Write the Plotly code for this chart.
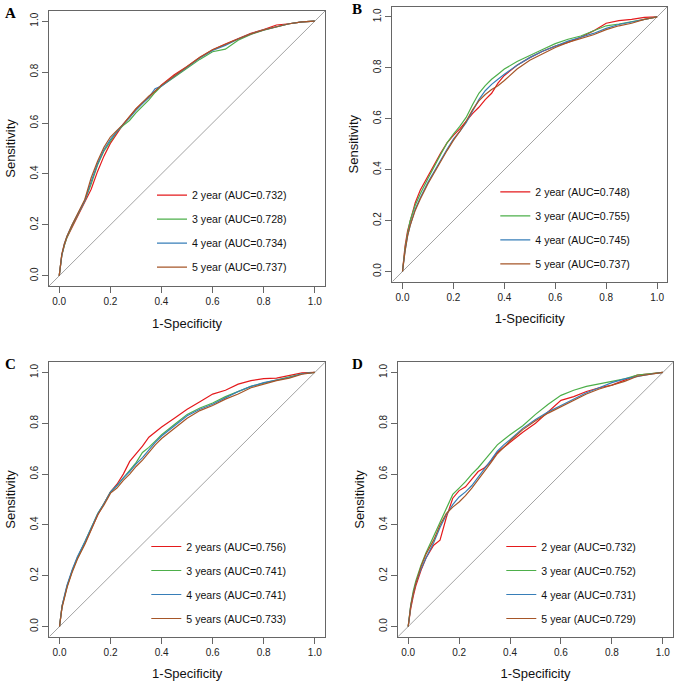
import plotly.graph_objects as go

# false positive rate grid (same for every panel)
fpr = [0, 0.005, 0.01, 0.02, 0.03, 0.05, 0.07, 0.1, 0.125, 0.15, 0.175, 0.2,
       0.225, 0.25, 0.275, 0.3, 0.325, 0.35, 0.375, 0.4, 0.45, 0.5, 0.55, 0.6,
       0.65, 0.7, 0.75, 0.8, 0.85, 0.9, 0.95, 1.0]

# panel A
a_red = [0, 0.05, 0.08, 0.12, 0.15, 0.19, 0.23, 0.29, 0.34, 0.41, 0.47, 0.52, 0.56, 0.595, 0.625, 0.655,
         0.68, 0.70, 0.725, 0.75, 0.79, 0.822, 0.858, 0.888, 0.91, 0.932, 0.952, 0.967, 0.985, 0.99, 0.997, 1]
a_green = [0, 0.05, 0.08, 0.12, 0.15, 0.195, 0.235, 0.295, 0.36, 0.435, 0.49, 0.53, 0.565, 0.59, 0.61, 0.64,
           0.665, 0.69, 0.72, 0.745, 0.78, 0.815, 0.85, 0.88, 0.89, 0.925, 0.948, 0.965, 0.978, 0.99, 0.997, 1]
a_blue = [0, 0.05, 0.08, 0.125, 0.155, 0.2, 0.24, 0.295, 0.37, 0.44, 0.495, 0.535, 0.565, 0.595, 0.62, 0.65,
          0.675, 0.70, 0.735, 0.745, 0.783, 0.82, 0.855, 0.885, 0.905, 0.93, 0.95, 0.966, 0.978, 0.99, 0.997, 1]
a_brown = [0, 0.05, 0.085, 0.125, 0.155, 0.2, 0.24, 0.3, 0.385, 0.45, 0.505, 0.545, 0.57, 0.595, 0.625, 0.655,
           0.68, 0.705, 0.725, 0.748, 0.785, 0.82, 0.857, 0.888, 0.91, 0.93, 0.95, 0.966, 0.978, 0.99, 0.997, 1]

# panel B
b_red = [0, 0.07, 0.10, 0.16, 0.20, 0.27, 0.32, 0.375, 0.42, 0.465, 0.505, 0.535, 0.56, 0.59, 0.62, 0.645,
         0.675, 0.70, 0.74, 0.77, 0.81, 0.84, 0.865, 0.885, 0.9, 0.92, 0.945, 0.975, 0.985, 0.99, 0.998, 1]
b_green = [0, 0.05, 0.09, 0.15, 0.20, 0.26, 0.305, 0.365, 0.415, 0.46, 0.505, 0.54, 0.57, 0.605, 0.655, 0.70,
           0.73, 0.755, 0.775, 0.795, 0.825, 0.85, 0.872, 0.895, 0.912, 0.925, 0.945, 0.965, 0.972, 0.98, 0.99, 1]
b_blue = [0, 0.05, 0.08, 0.14, 0.18, 0.245, 0.29, 0.35, 0.395, 0.44, 0.48, 0.52, 0.55, 0.585, 0.63, 0.675,
          0.71, 0.735, 0.755, 0.775, 0.81, 0.84, 0.865, 0.885, 0.905, 0.92, 0.935, 0.955, 0.97, 0.98, 0.99, 1]
b_brown = [0, 0.05, 0.08, 0.14, 0.18, 0.24, 0.285, 0.345, 0.39, 0.435, 0.475, 0.515, 0.55, 0.59, 0.635, 0.67,
           0.695, 0.715, 0.73, 0.75, 0.795, 0.83, 0.855, 0.88, 0.9, 0.915, 0.93, 0.95, 0.965, 0.975, 0.99, 1]

# panel C
c_red = [0, 0.05, 0.08, 0.12, 0.16, 0.22, 0.27, 0.33, 0.385, 0.44, 0.485, 0.53, 0.56, 0.60, 0.65, 0.68,
         0.71, 0.745, 0.765, 0.785, 0.82, 0.855, 0.885, 0.915, 0.93, 0.954, 0.968, 0.976, 0.978, 0.987, 0.998, 1]
c_green = [0, 0.05, 0.08, 0.12, 0.16, 0.22, 0.27, 0.335, 0.39, 0.445, 0.485, 0.53, 0.555, 0.585, 0.615, 0.645,
           0.685, 0.705, 0.73, 0.755, 0.795, 0.835, 0.86, 0.88, 0.905, 0.925, 0.945, 0.958, 0.97, 0.98, 0.995, 1]
c_blue = [0, 0.05, 0.08, 0.125, 0.165, 0.225, 0.275, 0.335, 0.39, 0.445, 0.485, 0.53, 0.555, 0.585, 0.61, 0.64,
          0.665, 0.695, 0.725, 0.75, 0.79, 0.83, 0.855, 0.875, 0.9, 0.925, 0.945, 0.96, 0.97, 0.98, 0.995, 1]
c_brown = [0, 0.045, 0.075, 0.115, 0.155, 0.215, 0.265, 0.325, 0.385, 0.44, 0.48, 0.525, 0.545, 0.575, 0.60, 0.63,
           0.655, 0.685, 0.715, 0.74, 0.78, 0.82, 0.85, 0.87, 0.895, 0.915, 0.94, 0.955, 0.968, 0.978, 0.993, 1]

# panel D
d_red = [0, 0.04, 0.07, 0.12, 0.16, 0.22, 0.27, 0.32, 0.34, 0.43, 0.505, 0.535, 0.55, 0.58, 0.61, 0.625,
         0.65, 0.685, 0.705, 0.725, 0.765, 0.80, 0.845, 0.89, 0.905, 0.925, 0.94, 0.95, 0.97, 0.99, 0.995, 1]
d_green = [0, 0.05, 0.085, 0.14, 0.18, 0.24, 0.29, 0.355, 0.41, 0.46, 0.52, 0.545, 0.57, 0.60, 0.625, 0.655,
           0.685, 0.715, 0.735, 0.755, 0.79, 0.835, 0.875, 0.91, 0.93, 0.945, 0.955, 0.965, 0.975, 0.99, 0.995, 1]
d_blue = [0, 0.045, 0.08, 0.13, 0.17, 0.225, 0.27, 0.33, 0.39, 0.44, 0.48, 0.51, 0.53, 0.555, 0.59, 0.625,
          0.655, 0.69, 0.715, 0.735, 0.78, 0.815, 0.845, 0.87, 0.895, 0.92, 0.94, 0.96, 0.975, 0.985, 0.993, 1]
d_brown = [0, 0.045, 0.08, 0.13, 0.17, 0.235, 0.285, 0.34, 0.40, 0.445, 0.47, 0.49, 0.515, 0.545, 0.58, 0.615,
           0.645, 0.68, 0.705, 0.73, 0.775, 0.81, 0.84, 0.865, 0.89, 0.915, 0.935, 0.95, 0.965, 0.985, 0.993, 1]

names_a = ["2 year (AUC=0.732)", "3 year (AUC=0.728)", "4 year (AUC=0.734)", "5 year (AUC=0.737)"]
names_b = ["2 year (AUC=0.748)", "3 year (AUC=0.755)", "4 year (AUC=0.745)", "5 year (AUC=0.737)"]
names_c = ["2 years (AUC=0.756)", "3 years (AUC=0.741)", "4 years (AUC=0.741)", "5 years (AUC=0.733)"]
names_d = ["2 year (AUC=0.732)", "3 year (AUC=0.752)", "4 year (AUC=0.731)", "5 year (AUC=0.729)"]

tick_vals = [0, 0.2, 0.4, 0.6, 0.8, 1.0]
tick_text = ["0.0", "0.2", "0.4", "0.6", "0.8", "1.0"]
axis_range = [-0.04, 1.04]

colors = ["#E41A1C", "#4DAF4A", "#377EB8", "#A65628"]
FONT = "Liberation Sans, Arial, sans-serif"
W, H = 676, 685

panels = [
    ("A", [a_red, a_green, a_blue, a_brown], names_a, (49, 325, 11, 286), (152, 180.7)),
    ("B", [b_red, b_green, b_blue, b_brown], names_b, (392.3, 667.3, 6.7, 281.7), (495.3, 177.3)),
    ("C", [c_red, c_green, c_blue, c_brown], names_c, (49.3, 325, 362.3, 636.7), (146.3, 532)),
    ("D", [d_red, d_green, d_blue, d_brown], names_d, (398, 673, 362.3, 636.7), (501.3, 532)),
]

fig = go.Figure()
layout = {}
annotations = []

for i, (label, curves, names, box, leg) in enumerate(panels):
    n = "" if i == 0 else str(i + 1)
    xa, ya = "x" + n, "y" + n
    legend_id = "legend" + n

    # chance line across the whole plotting region
    fig.add_trace(go.Scatter(x=axis_range, y=axis_range, mode="lines", xaxis=xa, yaxis=ya,
                             line=dict(color="#8c8c8c", width=0.8), showlegend=False,
                             hoverinfo="skip"))
    for k, (sens, name) in enumerate(zip(curves, names)):
        fig.add_trace(go.Scatter(x=fpr, y=sens, mode="lines", name=name, xaxis=xa, yaxis=ya,
                                 line=dict(color=colors[k], width=1.2),
                                 legend=legend_id, legendgroup=label + str(k)))

    left, right, top, bottom = box
    common = dict(range=axis_range, tickvals=tick_vals, ticktext=tick_text,
                  showline=True, mirror=True, linecolor="#666666", linewidth=1,
                  ticks="outside", ticklen=6, tickcolor="#666666", showgrid=False,
                  zeroline=False, tickfont=dict(family=FONT, size=10, color="#222222"))
    layout["xaxis" + n] = dict(common, domain=[left / W, right / W], anchor=ya,
                               title=dict(text="1-Specificity", standoff=12,
                                          font=dict(family=FONT, size=13, color="#111111")))
    layout["yaxis" + n] = dict(common, domain=[1 - bottom / H, 1 - top / H], anchor=xa,
                               tickangle=-90,
                               title=dict(text="Sensitivity", standoff=10,
                                          font=dict(family=FONT, size=13, color="#111111")))
    layout[legend_id] = dict(x=leg[0] / W, y=1 - leg[1] / H, xanchor="left", yanchor="top",
                             bgcolor="rgba(0,0,0,0)", tracegroupgap=5,
                             font=dict(family=FONT, size=10.6, color="#111111"))

    # panel letter
    lx = 3 if left < 100 else 350
    annotations.append(dict(text="<b>" + label + "</b>", xref="paper", yref="paper",
                            x=lx / W, y=1 - (top - 8) / H, xanchor="left", yanchor="top",
                            showarrow=False,
                            font=dict(family="Liberation Serif, Times New Roman, serif",
                                      size=15, color="#000000")))

fig.update_layout(width=W, height=H, margin=dict(l=0, r=0, t=0, b=0),
                  paper_bgcolor="white", plot_bgcolor="white",
                  annotations=annotations, **layout)

# the page's default body margin would shift the whole figure by 8px
fig.write_html("out.html", config={"displayModeBar": False},
               post_script="document.body.style.margin='0px';")
